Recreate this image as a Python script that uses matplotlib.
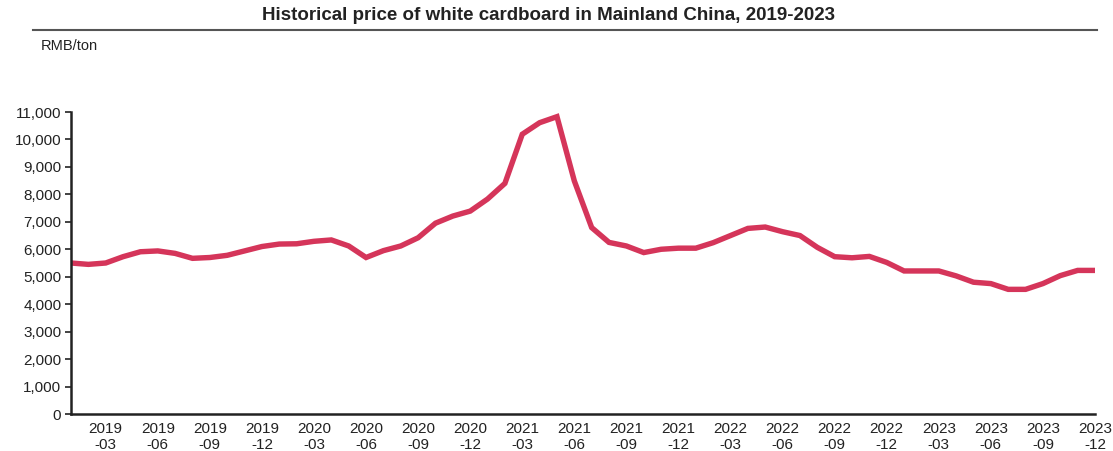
import matplotlib.pyplot as plt
import numpy as np
from matplotlib.ticker import FuncFormatter
from matplotlib.lines import Line2D

plt.rcParams['font.family'] = ['Liberation Sans', 'DejaVu Sans']

years = [2019, 2020, 2021, 2022, 2023]
months = [f'{y}-{m:02d}' for y in years for m in range(1, 13)]
price = [5500, 5450, 5500, 5730, 5910, 5940, 5850, 5670, 5700, 5780, 5940, 6100,
         6190, 6200, 6290, 6340, 6120, 5700, 5950, 6120, 6420, 6950, 7210, 7390,
         7830, 8400, 10190, 10610, 10830, 8490, 6790, 6250, 6120, 5880, 6000, 6040,
         6040, 6240, 6500, 6760, 6810, 6640, 6500, 6070, 5730, 5690, 5740, 5520,
         5210, 5210, 5210, 5030, 4800, 4750, 4540, 4540, 4750, 5040, 5230, 5230]

x = np.arange(len(months))
tick_idx = [i for i, m in enumerate(months) if m[-2:] in ('03', '06', '09', '12')]
tick_lab = [months[i].replace('-', '\n-') for i in tick_idx]

fig = plt.figure(figsize=(11.13, 4.51), dpi=100)
ax = fig.add_axes([71 / 1113, 37 / 451, (1095 - 71) / 1113, (414 - 112) / 451])

ax.plot(x, price, color='#D5355A', lw=3.9, solid_joinstyle='miter', solid_capstyle='butt')

ax.set_xlim(0, len(months) - 1)
ax.set_ylim(0, 11000)
ax.set_yticks(np.arange(0, 11001, 1000))
ax.yaxis.set_major_formatter(FuncFormatter(lambda v, p: f'{int(v):,}'))
ax.set_xticks(tick_idx)
ax.set_xticklabels(tick_lab, fontsize=11, color='#222222', linespacing=1.15)
ax.tick_params(axis='x', length=0, pad=6)
ax.tick_params(axis='y', length=4, width=1.2, color='#222222', labelsize=11,
               labelcolor='#222222', pad=3)

for s in ('top', 'right'):
    ax.spines[s].set_visible(False)
for s in ('left', 'bottom'):
    ax.spines[s].set_linewidth(1.8)
    ax.spines[s].set_color('#222222')

fig.text(549 / 1113, 1 - 16 / 451, 'Historical price of white cardboard in Mainland China, 2019-2023',
         ha='center', va='center', fontsize=13.5, fontweight='bold', color='#222222')
fig.add_artist(Line2D([33 / 1113, 1097 / 1113], [1 - 29.5 / 451, 1 - 29.5 / 451],
                      color='#555555', lw=1.5, transform=fig.transFigure))
fig.text(41 / 1113, 1 - 46 / 451, 'RMB/ton', ha='left', va='center', fontsize=10.5, color='#222222')

fig.savefig('out.png', dpi=100, facecolor='white')
